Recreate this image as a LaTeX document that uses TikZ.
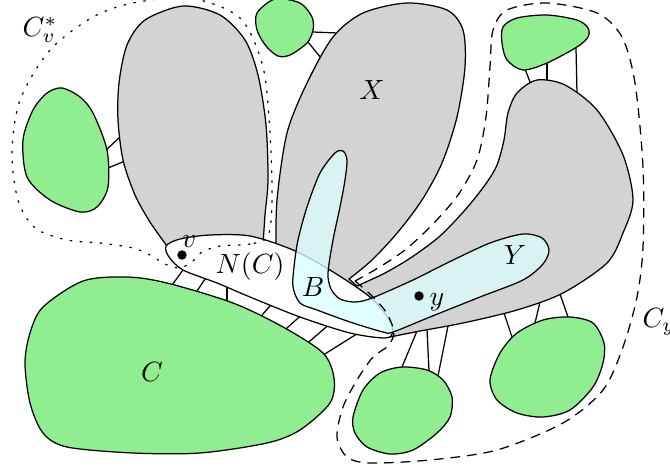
\documentclass[tikz,border=0pt]{standalone}
\definecolor{lgreen}{RGB}{144,238,144}
\definecolor{lgray}{RGB}{211,211,211}
\definecolor{cyanW}{RGB}{224,255,255}
\definecolor{cyanG}{RGB}{217,242,242}
\definecolor{faintc}{RGB}{170,200,200}
\tikzset{
  lobe/.style={fill=lgray,draw=black},
  blob/.style={fill=lgreen,draw=black},
  nbhd/.style={fill=white,draw=black},
  cvline/.style={dash pattern=on 0.6pt off 3pt,line cap=round},
  cyline/.style={dash pattern=on 3.5pt off 2.5pt},
  edge/.style={draw=black,shorten <=-1.5pt,shorten >=-1.5pt},
  dotn/.style={circle,fill=black,inner sep=0pt,minimum size=3.4pt},
  lab/.style={inner sep=0pt}
}
\begin{document}
\begin{tikzpicture}[x=0.36pt,y=-0.36pt,line width=0.45pt]
\useasboundingbox (0,0) rectangle (670,469);
\clip (0,0) rectangle (670,469);
% edges (drawn first, ends hidden by shapes)
\foreach \xa/\ya/\xb/\yb in {175/281/183/270,197/291/205/279,227/301/227/288,263/314/270/306,287/328/297/319,310/341/325/328,328/352/352/337,
  402/367/417/331,429/371/427/329,438/376/448/326,
  513/340/504/313,535/323/540/302,568/317/560/294,
  525/69/530/82,547/65/547/80,576/48/577/93,
  313/32/338/33,308/42/321/58,
  105/151/120/137,108/168/125/161}
  \draw[edge] (\xa,\ya) -- (\xb,\yb);
% gray lobes
\path[lobe] plot[smooth] coordinates {(167,246) (150,222) (135,195) (123,160) (118,120) (119,83) (127,45) (145,20) (183,6) (220,15) (245,40) (258,75) (266,125) (268,180) (265,215) (263,245)} -- (230,255) -- (190,255) -- cycle;
\path[lobe] plot[smooth] coordinates {(276,252) (277,200) (287,133) (307,83) (333,37) (363,13) (407,3) (447,10) (463,30) (465,67) (457,117) (442,163) (422,200) (398,232) (372,260) (349,279)}
  -- plot[smooth] coordinates {(357,286) (385,273) (412,257) (440,236) (465,210) (485,185) (497,165) (504,140) (508,113) (517,93) (537,80) (565,85) (597,110) (623,155) (633,200) (623,233) (607,263) (563,293) (517,310) (463,323) (420,331) (390,337)}
  -- (375,322) -- (330,295) -- (290,268) -- cycle;
% neighbourhood N(C)
\path[nbhd] plot[smooth cycle,tension=0.5] coordinates {(166,246) (180,239) (210,235) (250,236) (293,250) (330,270) (370,297) (388,318) (393,332) (385,338) (350,333) (300,317) (250,297) (217,283) (183,270) (169,257)};
% B and Y : light fill
\fill[cyanW] plot[smooth cycle,tension=0.5] coordinates {(343,151) (347,160) (345,180) (340,207) (333,240) (328,273) (331,289) (340,299) (355,302) (372,298) (413,280) (447,263) (490,243) (523,234) (542,238) (549,250) (543,264) (523,280) (480,297) (430,317) (393,332) (383,332) (350,322) (317,310) (300,303) (293,287) (294,267) (298,240) (307,207) (320,173) (335,153)};
\begin{scope}
\clip plot[smooth cycle,tension=0.5] coordinates {(343,151) (347,160) (345,180) (340,207) (333,240) (328,273) (331,289) (340,299) (355,302) (372,298) (413,280) (447,263) (490,243) (523,234) (542,238) (549,250) (543,264) (523,280) (480,297) (430,317) (393,332) (383,332) (350,322) (317,310) (300,303) (293,287) (294,267) (298,240) (307,207) (320,173) (335,153)};
\fill[cyanG] plot[smooth] coordinates {(276,252) (277,200) (287,133) (307,83) (333,37) (363,13) (407,3) (447,10) (463,30) (465,67) (457,117) (442,163) (422,200) (398,232) (372,260) (349,279)}
  -- plot[smooth] coordinates {(357,286) (385,273) (412,257) (440,236) (465,210) (485,185) (497,165) (504,140) (508,113) (517,93) (537,80) (565,85) (597,110) (623,155) (633,200) (623,233) (607,263) (563,293) (517,310) (463,323) (420,331) (390,337)}
  -- (375,322) -- (330,295) -- (290,268) -- cycle;
\path[fill=cyanW,draw=faintc] plot[smooth cycle,tension=0.5] coordinates {(166,246) (180,239) (210,235) (250,236) (293,250) (330,270) (370,297) (388,318) (393,332) (385,338) (350,333) (300,317) (250,297) (217,283) (183,270) (169,257)};
\end{scope}
\draw plot[smooth cycle,tension=0.5] coordinates {(343,151) (347,160) (345,180) (340,207) (333,240) (328,273) (331,289) (340,299) (355,302) (372,298) (413,280) (447,263) (490,243) (523,234) (542,238) (549,250) (543,264) (523,280) (480,297) (430,317) (393,332) (383,332) (350,322) (317,310) (300,303) (293,287) (294,267) (298,240) (307,207) (320,173) (335,153)};
% C_v^* dotted
\draw[cvline] plot[smooth cycle] coordinates {(268,236) (250,244) (220,246) (202,252) (193,261) (180,268) (165,264) (150,255) (133,248) (100,243) (67,240) (35,228) (18,200) (12,153) (20,100) (50,50) (93,17) (133,3) (190,-2) (240,18) (263,67) (270,133) (272,200)};
% C_y dashed
\draw[cyline] plot[smooth] coordinates {(355,281) (371,295) (386,312) (394,332) (388,346) (373,357) (357,380) (343,407) (337,437) (347,457) (370,463) (430,460) (497,450) (563,423) (603,390) (623,347) (637,297) (643,247) (643,167) (635,83) (622,37) (597,13) (547,3) (507,10) (493,30) (490,67) (486,117) (477,160) (458,195) (432,225) (405,250) (378,268) (355,281)};
% green components
\path[blob] plot[smooth cycle] coordinates {(43,307) (83,281) (127,277) (167,283) (233,303) (283,327) (323,353) (334,378) (330,403) (300,430) (267,443) (200,453) (133,453) (67,447) (43,433) (30,403) (25,363) (30,333)};
\path[blob] plot[smooth cycle] coordinates {(62,88) (80,97) (93,113) (107,150) (108,187) (97,207) (80,212) (50,200) (27,177) (23,140) (33,110) (47,93)};
\path[blob] plot[smooth cycle] coordinates {(257,13) (275,-1) (300,3) (312,17) (313,30) (307,43) (290,55) (278,56) (266,46) (257,30)};
\path[blob] plot[smooth cycle] coordinates {(503,27) (517,18) (547,15) (577,20) (588,28) (588,37) (577,47) (547,63) (523,70) (507,60) (502,43)};
\path[blob] plot[smooth cycle] coordinates {(353,417) (363,390) (380,373) (402,367) (427,370) (443,380) (452,397) (450,417) (437,433) (413,450) (390,454) (367,447) (355,433)};
\path[blob] plot[smooth cycle] coordinates {(490,380) (500,353) (517,333) (543,320) (570,317) (593,323) (604,343) (603,363) (593,387) (570,410) (543,417) (517,413) (497,400)};
% dots and labels
\node[dotn] (vd) at (182,255) {};
\node[dotn] (yd) at (419,296) {};
\node[lab] (lv) at (189,242) {$v$};
\node[lab] (ly) at (437,302) {$y$};
\node[lab] (lcv) at (40,30) {$C_v^*$};
\node[lab] (lx) at (372,90) {$X$};
\node[lab] (lnc) at (250,267) {$N(C)$};
\node[lab] (lb) at (313,287) {$B$};
\node[lab] (lyy) at (515,255) {$Y$};
\node[lab] (lc) at (152,372) {$C$};
\node[lab,anchor=west] (lcy) at (642,322) {$C_y$};
\end{tikzpicture}
\end{document}
